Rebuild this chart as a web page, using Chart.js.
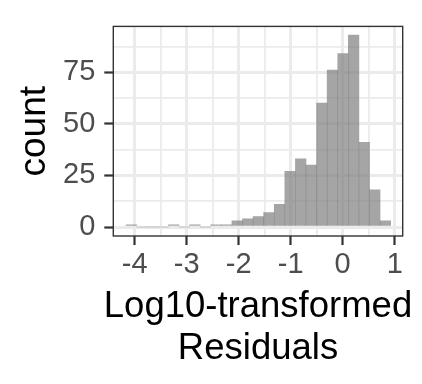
<!DOCTYPE html>
<html>
<head>
<meta charset="utf-8">
<script src="https://cdn.jsdelivr.net/npm/chart.js@4"></script>
<style>
  body { margin: 0; background: #fff; }
  canvas { display: block; }
</style>
</head>
<body>
<canvas id="hist" width="422" height="384"></canvas>
<script>
// bin centres (log10 residuals) and counts
const binCenters = [-4.063, -3.860, -3.656, -3.453, -3.249, -3.046, -2.842, -2.639, -2.435, -2.232,
                    -2.028, -1.825, -1.621, -1.418, -1.214, -1.011, -0.807, -0.604, -0.400, -0.197,
                     0.007,  0.210,  0.414,  0.617,  0.821];
const binCounts  = [1, 0, 0, 0, 1, 0, 1, 0, 1, 1,
                    3, 4, 5, 7, 11, 27, 33, 30, 60, 76,
                    84, 93, 41, 18, 3];

const xMajor = [-4, -3, -2, -1, 0, 1];
const xMinor = [-3.5, -2.5, -1.5, -0.5, 0.5];
const yMajor = [0, 25, 50, 75];
const yMinor = [12.5, 37.5, 62.5, 87.5];

const xTitle = ['Log10-transformed', 'Residuals'];
const yTitle = 'count';

const font = '"Liberation Sans", Arial, sans-serif';

function isMajor(list, c) {
    return !!c.tick && list.some(m => Math.abs(m - c.tick.value) < 1e-6);
}

// panel border on top of the bars, plus axis titles
// (chart.js squeezes a scale title to the axis width, this one is wider)
const panelDecor = {
    id: 'panelDecor',
    afterDraw(chart) {
        const a = chart.chartArea;
        const ctx = chart.ctx;
        ctx.save();
        ctx.strokeStyle = '#333333';
        ctx.lineWidth = 1.4;
        ctx.strokeRect(a.left, a.top, a.right - a.left, a.bottom - a.top);

        ctx.fillStyle = '#000';
        ctx.textAlign = 'center';
        ctx.textBaseline = 'alphabetic';
        ctx.font = '36.5px ' + font;
        const cx = (a.left + a.right) / 2;
        ctx.fillText(xTitle[0], cx, 317.3);
        ctx.fillText(xTitle[1], cx, 359);

        ctx.font = '37px ' + font;
        ctx.translate(45, (a.top + a.bottom) / 2);
        ctx.rotate(-Math.PI / 2);
        ctx.fillText(yTitle, 0, 0);
        ctx.restore();
    }
};

new Chart(document.querySelector('#hist'), {
    type: 'bar',
    data: {
        datasets: [{
            data: binCenters.map((x, i) => ({ x: x, y: binCounts[i] })),
            backgroundColor: 'rgba(127,127,127,0.7)',
            borderWidth: 0,
            barPercentage: 1,
            categoryPercentage: 1
        }]
    },
    options: {
        responsive: false,
        animation: false,
        layout: { padding: { left: 0, top: 19.3, right: 19.3, bottom: 0 } },
        plugins: { legend: { display: false }, tooltip: { enabled: false } },
        scales: {
            x: {
                type: 'linear',
                offset: false,
                min: -4.41,
                max: 1.154,
                afterBuildTicks: s => { s.ticks = xMajor.concat(xMinor).sort((a, b) => a - b).map(v => ({ value: v })); },
                afterFit: s => { s.height = 148; },
                border: { display: false },
                grid: {
                    offset: false,
                    color: '#EBEBEB',
                    lineWidth: c => isMajor(xMajor, c) ? 3 : 1.8,
                    tickColor: c => isMajor(xMajor, c) ? '#333333' : 'rgba(0,0,0,0)',
                    tickWidth: 2.2,
                    tickLength: 9
                },
                ticks: {
                    autoSkip: false,
                    maxRotation: 0,
                    minRotation: 0,
                    padding: 3,
                    color: '#4D4D4D',
                    font: { family: font, size: 29 },
                    callback: v => xMajor.includes(v) ? String(v) : ''
                }
            },
            y: {
                min: -4.36,
                max: 97.2,
                afterBuildTicks: s => { s.ticks = yMajor.concat(yMinor).sort((a, b) => a - b).map(v => ({ value: v })); },
                afterFit: s => { s.width = 113.3; },
                border: { display: false },
                grid: {
                    color: '#EBEBEB',
                    lineWidth: c => isMajor(yMajor, c) ? 3 : 1.8,
                    tickColor: c => isMajor(yMajor, c) ? '#333333' : 'rgba(0,0,0,0)',
                    tickWidth: 2.2,
                    tickLength: 9
                },
                ticks: {
                    autoSkip: false,
                    padding: 9,
                    color: '#4D4D4D',
                    font: { family: font, size: 29 },
                    callback: v => yMajor.includes(v) ? String(v) : ''
                }
            }
        }
    },
    plugins: [panelDecor]
});
</script>
</body>
</html>
